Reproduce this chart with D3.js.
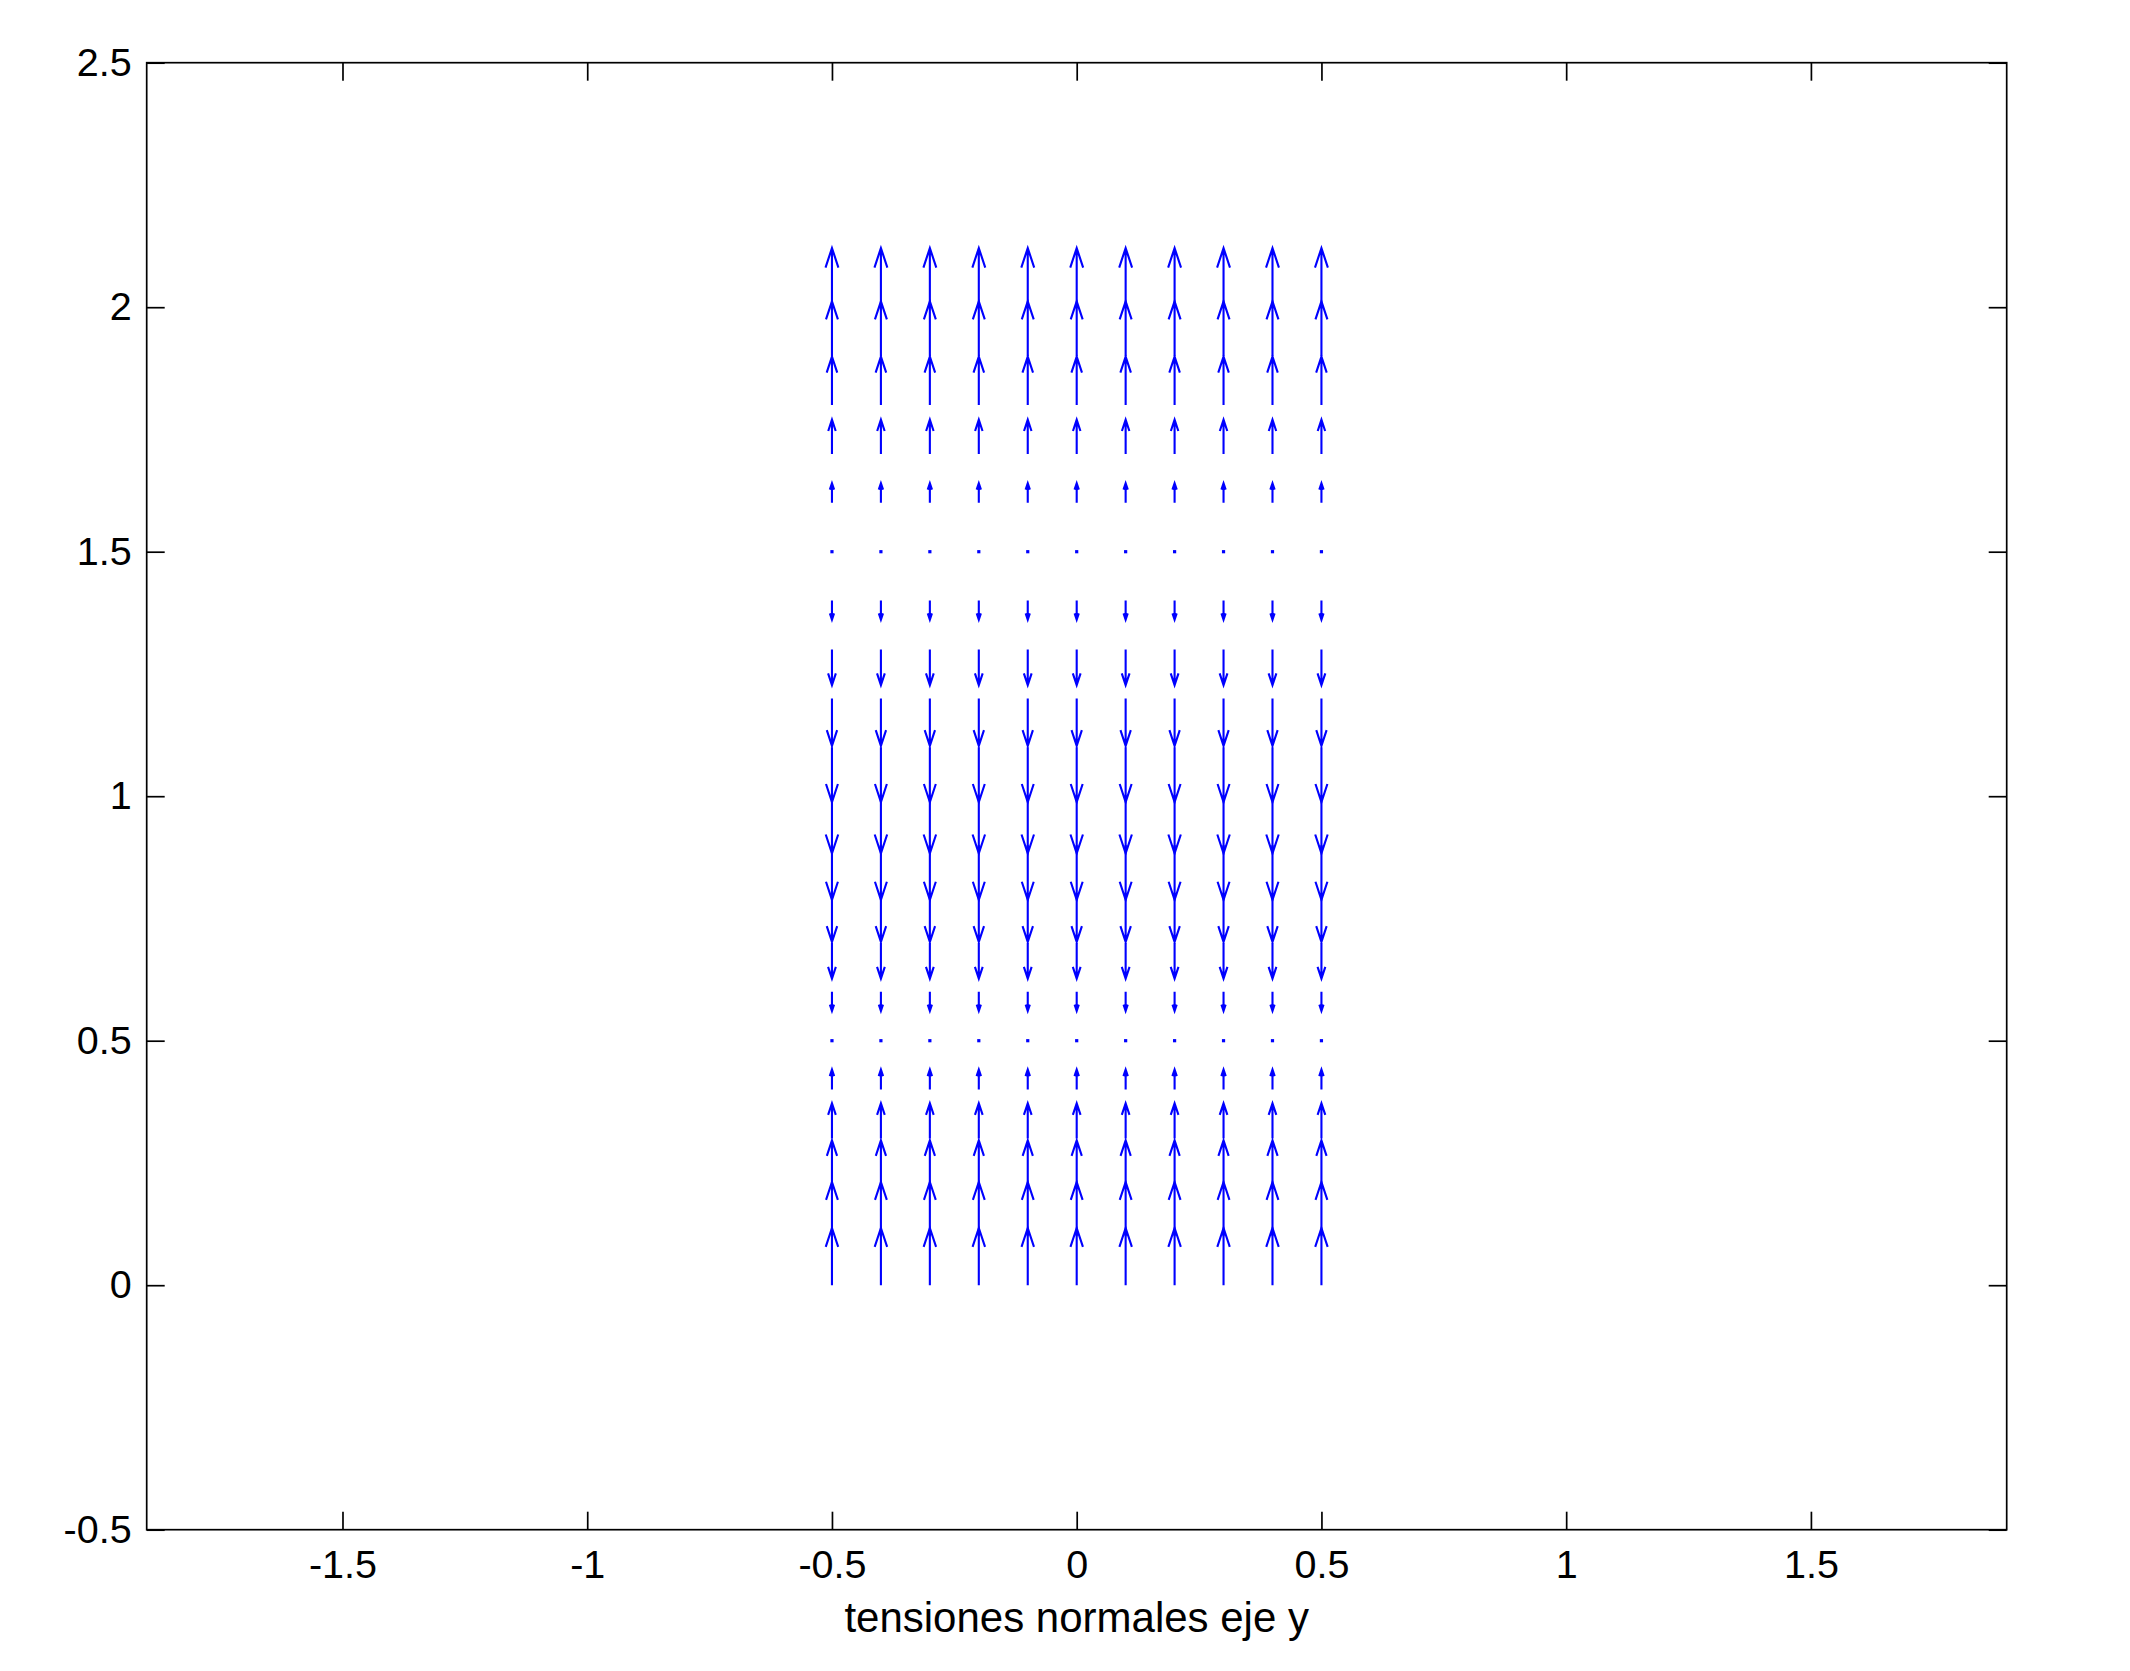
<!DOCTYPE html>
<html>
<head>
<meta charset="utf-8">
<script src="https://d3js.org/d3.v7.min.js"></script>
<style>
    body { margin: 0; background: #ffffff; }
    svg { display: block; }
    .axis text { font-family: "Liberation Sans", Arial, sans-serif; font-size: 39.5px; fill: #000; }
    .axis line { stroke: #000; stroke-width: 1.7; }
</style>
</head>
<body>
<div id="wrapper"></div>
<script>
// grid columns (x) and rows (y) of the quiver plot
let xPositions = [-0.5, -0.4, -0.3, -0.2, -0.1, 0, 0.1, 0.2, 0.3, 0.4, 0.5];
let yPositions = [0, 0.1, 0.2, 0.3, 0.4, 0.5, 0.6, 0.7, 0.8, 0.9, 1.0,
                  1.1, 1.2, 1.3, 1.4, 1.5, 1.6, 1.7, 1.8, 1.9, 2.0];
// vertical component drawn at each row (horizontal component is zero)
let vValues = [0.117, 0.111, 0.096, 0.072, 0.041, 0, -0.039, -0.073, -0.098, -0.112, -0.117,
               -0.112, -0.097, -0.073, -0.039, 0, 0.040, 0.070, 0.099, 0.112, 0.121];

let xTicks = [-1.5, -1, -0.5, 0, 0.5, 1, 1.5];
let yTicks = [-0.5, 0, 0.5, 1, 1.5, 2, 2.5];
let xLabel = "tensiones normales eje y";

let width = 2130, height = 1671;
let padLeft = 146.7, padRight = 2006.7, padTop = 62.7, padBottom = 1529.7;
let tickLen = 18;

let svg = d3.select("#wrapper")
            .append("svg")
            .attr("width", width)
            .attr("height", height);

let xScale = d3.scaleLinear()
                .domain([-1.9, 1.9])
                .range([padLeft, padRight]);

let yScale = d3.scaleLinear()
                .domain([-0.5, 2.5])
                .range([padBottom, padTop]);

let fmt = d => String(d);

svg.append("g")
    .attr("class", "axis")
    .attr("transform", `translate(0, ${padBottom})`)
    .call(d3.axisBottom(xScale).tickValues(xTicks).tickFormat(fmt).tickSize(-tickLen).tickPadding(20))
    .call(g => g.select(".domain").remove());

svg.append("g")
    .attr("class", "axis")
    .attr("transform", `translate(0, ${padTop})`)
    .call(d3.axisTop(xScale).tickValues(xTicks).tickFormat("").tickSize(-tickLen))
    .call(g => g.select(".domain").remove());

svg.append("g")
    .attr("class", "axis")
    .attr("transform", `translate(${padLeft}, 0)`)
    .call(d3.axisLeft(yScale).tickValues(yTicks).tickFormat(fmt).tickSize(-tickLen).tickPadding(15))
    .call(g => g.select(".domain").remove());

svg.append("g")
    .attr("class", "axis")
    .attr("transform", `translate(${padRight}, 0)`)
    .call(d3.axisRight(yScale).tickValues(yTicks).tickFormat("").tickSize(-tickLen))
    .call(g => g.select(".domain").remove());

svg.append("rect")
    .attr("x", padLeft)
    .attr("y", padTop)
    .attr("width", padRight - padLeft)
    .attr("height", padBottom - padTop)
    .attr("fill", "none")
    .attr("stroke", "#000")
    .attr("stroke-width", 1.7);

svg.append("text")
    .attr("x", (padLeft + padRight) / 2)
    .attr("y", 1632)
    .style("text-anchor", "middle")
    .style("font-family", "'Liberation Sans', Arial, sans-serif")
    .style("font-size", "42px")
    .style("fill", "#000")
    .text(xLabel);

// build vectors from the grid
let vectors = [];
xPositions.forEach(x => {
    yPositions.forEach((y, i) => {
        vectors.push({x: x, y: y, u: 0, v: vValues[i]});
    });
});

let alpha = 0.33, beta = 0.33;

let arrowPath = d => {
    let x0 = xScale(d.x), y0 = yScale(d.y);
    let x1 = xScale(d.x + d.u), y1 = yScale(d.y + d.v);
    let dx = x1 - x0, dy = y1 - y0;
    let ax = x1 - alpha * (dx + beta * dy), ay = y1 - alpha * (dy - beta * dx);
    let bx = x1 - alpha * (dx - beta * dy), by = y1 - alpha * (dy + beta * dx);
    return `M${x0},${y0}L${x1},${y1}M${ax},${ay}L${x1},${y1}L${bx},${by}`;
};

let quiver = svg.append("g");

quiver.selectAll("path")
    .data(vectors.filter(d => d.v != 0))
    .enter()
    .append("path")
    .attr("d", arrowPath)
    .attr("fill", "none")
    .attr("stroke", "#0000ff")
    .attr("stroke-width", 2.1);

quiver.selectAll("rect")
    .data(vectors.filter(d => d.v == 0))
    .enter()
    .append("rect")
    .attr("x", d => xScale(d.x) - 1.6)
    .attr("y", d => yScale(d.y) - 1.6)
    .attr("width", 3.2)
    .attr("height", 3.2)
    .attr("fill", "#0000ff");
</script>
</body>
</html>
